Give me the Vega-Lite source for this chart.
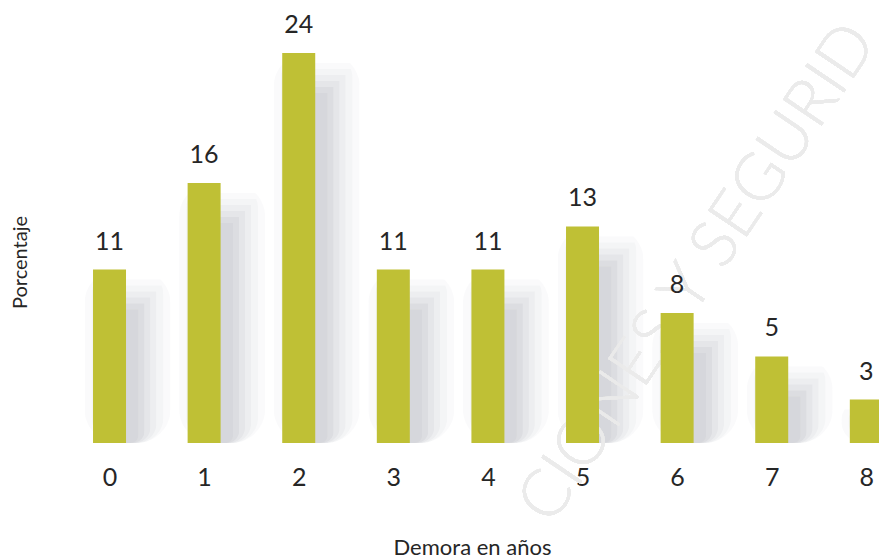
{
  "$schema": "https://vega.github.io/schema/vega-lite/v6.json",
  "width": 834,
  "height": 443,
  "autosize": {"type": "none"},
  "padding": {"left": 45, "top": 0, "right": 0, "bottom": 115},
  "background": "white",
  "config": {"view": {"stroke": null}, "font": "Lato"},
  "data": {
    "values": [
      {"anio": 0, "porcentaje": 10.67, "etiqueta": 11},
      {"anio": 1, "porcentaje": 16.0, "etiqueta": 16},
      {"anio": 2, "porcentaje": 24.0, "etiqueta": 24},
      {"anio": 3, "porcentaje": 10.67, "etiqueta": 11},
      {"anio": 4, "porcentaje": 10.67, "etiqueta": 11},
      {"anio": 5, "porcentaje": 13.33, "etiqueta": 13},
      {"anio": 6, "porcentaje": 8.0, "etiqueta": 8},
      {"anio": 7, "porcentaje": 5.33, "etiqueta": 5},
      {"anio": 8, "porcentaje": 2.67, "etiqueta": 3}
    ]
  },
  "encoding": {
    "x": {
      "field": "anio",
      "type": "quantitative",
      "scale": {"domain": [-0.682, 8.134], "nice": false, "zero": false, "padding": 0},
      "axis": {
        "values": [0, 1, 2, 3, 4, 5, 6, 7, 8],
        "grid": false, "ticks": false, "domain": false,
        "labelFontSize": 25, "labelColor": "#262626", "labelPadding": 22,
        "labelFont": "Lato", "labelFlush": false, "labelOverlap": false,
        "title": "Demora en años", "titleFontSize": 22, "titleFontWeight": "normal",
        "titleColor": "#262626", "titleFont": "Lato",
        "titleX": 427, "titleY": 111, "titleBaseline": "alphabetic", "titleAlign": "center"
      }
    },
    "y": {
      "field": "porcentaje",
      "type": "quantitative",
      "scale": {"domain": [0, 27.26], "nice": false, "padding": 0},
      "axis": {
        "labels": false, "grid": false, "ticks": false, "domain": false,
        "title": "Porcentaje", "titleFontSize": 20, "titleFontWeight": "normal",
        "titleColor": "#262626", "titleFont": "Lato",
        "titleX": -25, "titleY": 262, "titleAngle": -90,
        "titleAlign": "center", "titleBaseline": "middle"
      }
    }
  },
  "layer": [
    {"mark": {"type": "bar", "size": 30, "xOffset": 14, "yOffset": 40, "y2Offset": 4, "cornerRadius": 8, "color": "#5f6670", "opacity": 0.06}},
    {"mark": {"type": "bar", "size": 40, "xOffset": 15, "yOffset": 34, "y2Offset": 9, "cornerRadius": 12, "color": "#5f6670", "opacity": 0.06}},
    {"mark": {"type": "bar", "size": 50, "xOffset": 16, "yOffset": 28, "y2Offset": 14, "cornerRadius": 16, "color": "#5f6670", "opacity": 0.05}},
    {"mark": {"type": "bar", "size": 60, "xOffset": 17, "yOffset": 22, "y2Offset": 19, "cornerRadius": 20, "color": "#5f6670", "opacity": 0.045}},
    {"mark": {"type": "bar", "size": 72, "xOffset": 18, "yOffset": 16, "y2Offset": 24, "cornerRadius": 26, "color": "#5f6670", "opacity": 0.035}},
    {"mark": {"type": "bar", "size": 86, "xOffset": 18, "yOffset": 10, "y2Offset": 30, "cornerRadius": 34, "color": "#5f6670", "opacity": 0.03}},
    {
      "mark": {"type": "text", "text": "CIONES Y SEGURID", "angle": -56, "fontSize": 66, "font": "Lato", "fontWeight": 300, "color": "#ebebeb", "opacity": 0.9, "align": "center", "baseline": "middle"},
      "encoding": {"x": {"datum": 6.22}, "y": {"datum": 10.45}}
    },
    {"mark": {"type": "bar", "size": 33, "color": "#bfc035"}},
    {
      "mark": {"type": "text", "fontSize": 25, "font": "Lato", "color": "#262626", "baseline": "alphabetic", "dy": -20},
      "encoding": {"text": {"field": "etiqueta", "type": "quantitative"}}
    }
  ]
}
